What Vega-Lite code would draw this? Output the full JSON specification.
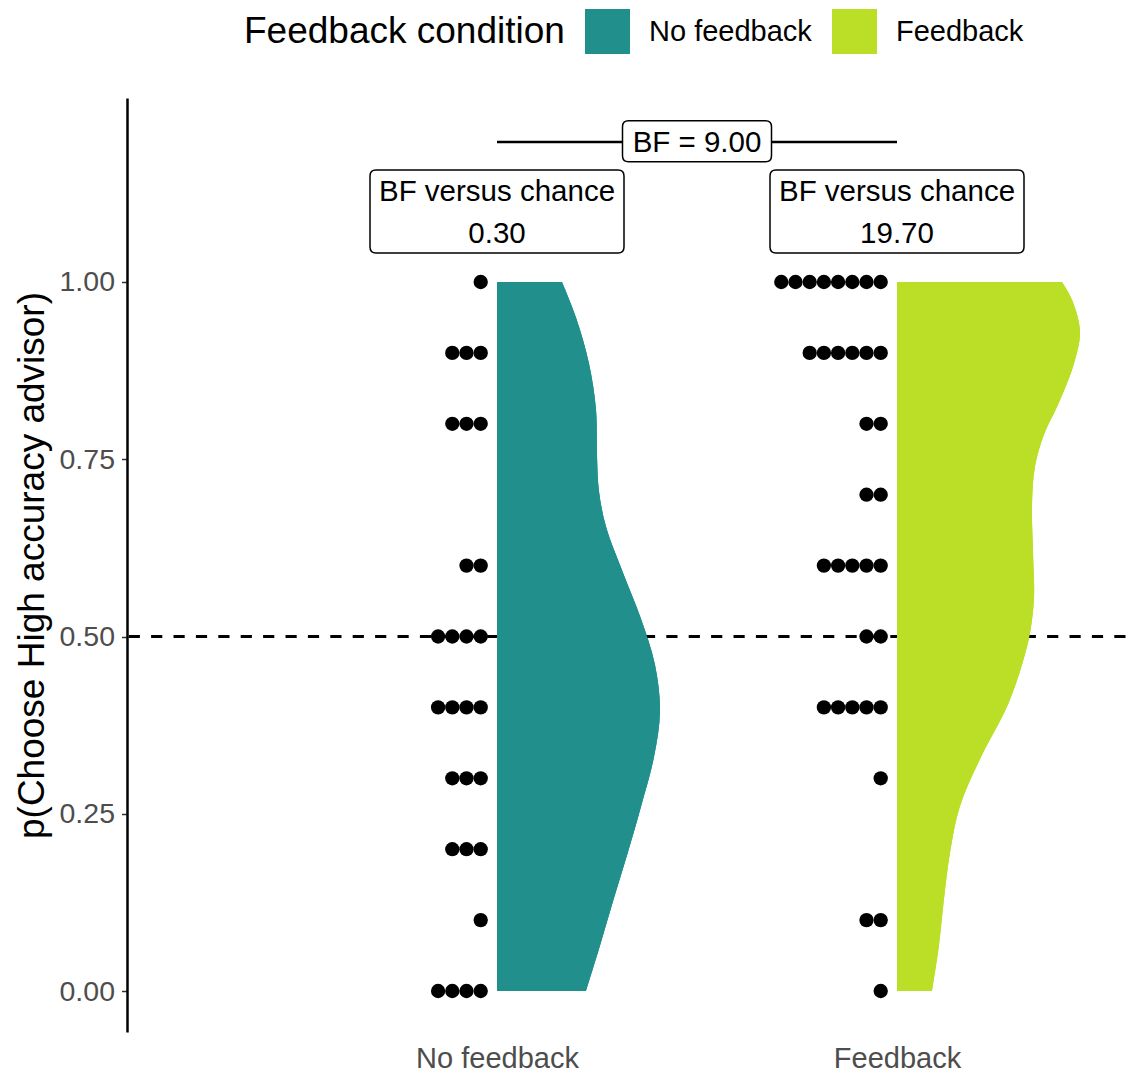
{
  "$schema": "https://vega.github.io/schema/vega-lite/v6.json",
  "width": 1008,
  "height": 934,
  "autosize": "none",
  "padding": {"left": 127, "top": 98, "right": 0, "bottom": 41},
  "background": "white",
  "config": {"view": {"stroke": null}, "font": "Liberation Sans"},
  "datasets": {
    "violin": [
      {"cond": "No feedback", "p": 0.0, "density": 0.2225},
      {"cond": "No feedback", "p": 0.065, "density": 0.258},
      {"cond": "No feedback", "p": 0.13, "density": 0.292},
      {"cond": "No feedback", "p": 0.195, "density": 0.327},
      {"cond": "No feedback", "p": 0.26, "density": 0.36},
      {"cond": "No feedback", "p": 0.33, "density": 0.3925},
      {"cond": "No feedback", "p": 0.395, "density": 0.4075},
      {"cond": "No feedback", "p": 0.46, "density": 0.395},
      {"cond": "No feedback", "p": 0.525, "density": 0.36},
      {"cond": "No feedback", "p": 0.59, "density": 0.315},
      {"cond": "No feedback", "p": 0.655, "density": 0.2725},
      {"cond": "No feedback", "p": 0.705, "density": 0.255},
      {"cond": "No feedback", "p": 0.755, "density": 0.25},
      {"cond": "No feedback", "p": 0.82, "density": 0.2475},
      {"cond": "No feedback", "p": 0.885, "density": 0.23},
      {"cond": "No feedback", "p": 0.95, "density": 0.1975},
      {"cond": "No feedback", "p": 1.0, "density": 0.1625},
      {"cond": "Feedback", "p": 0.0, "density": 0.0875},
      {"cond": "Feedback", "p": 0.065, "density": 0.105},
      {"cond": "Feedback", "p": 0.13, "density": 0.1175},
      {"cond": "Feedback", "p": 0.195, "density": 0.1325},
      {"cond": "Feedback", "p": 0.26, "density": 0.157},
      {"cond": "Feedback", "p": 0.33, "density": 0.21},
      {"cond": "Feedback", "p": 0.395, "density": 0.27},
      {"cond": "Feedback", "p": 0.43, "density": 0.295},
      {"cond": "Feedback", "p": 0.465, "density": 0.315},
      {"cond": "Feedback", "p": 0.505, "density": 0.3325},
      {"cond": "Feedback", "p": 0.555, "density": 0.3425},
      {"cond": "Feedback", "p": 0.62, "density": 0.34},
      {"cond": "Feedback", "p": 0.685, "density": 0.3375},
      {"cond": "Feedback", "p": 0.74, "density": 0.345},
      {"cond": "Feedback", "p": 0.785, "density": 0.3675},
      {"cond": "Feedback", "p": 0.83, "density": 0.405},
      {"cond": "Feedback", "p": 0.885, "density": 0.4425},
      {"cond": "Feedback", "p": 0.93, "density": 0.4575},
      {"cond": "Feedback", "p": 0.975, "density": 0.4375},
      {"cond": "Feedback", "p": 1.0, "density": 0.4125}
    ],
    "dots": [
      {"cond": "No feedback", "p": 1.0},
      {"cond": "No feedback", "p": 0.9}, {"cond": "No feedback", "p": 0.9}, {"cond": "No feedback", "p": 0.9},
      {"cond": "No feedback", "p": 0.8}, {"cond": "No feedback", "p": 0.8}, {"cond": "No feedback", "p": 0.8},
      {"cond": "No feedback", "p": 0.6}, {"cond": "No feedback", "p": 0.6},
      {"cond": "No feedback", "p": 0.5}, {"cond": "No feedback", "p": 0.5}, {"cond": "No feedback", "p": 0.5}, {"cond": "No feedback", "p": 0.5},
      {"cond": "No feedback", "p": 0.4}, {"cond": "No feedback", "p": 0.4}, {"cond": "No feedback", "p": 0.4}, {"cond": "No feedback", "p": 0.4},
      {"cond": "No feedback", "p": 0.3}, {"cond": "No feedback", "p": 0.3}, {"cond": "No feedback", "p": 0.3},
      {"cond": "No feedback", "p": 0.2}, {"cond": "No feedback", "p": 0.2}, {"cond": "No feedback", "p": 0.2},
      {"cond": "No feedback", "p": 0.1},
      {"cond": "No feedback", "p": 0.0}, {"cond": "No feedback", "p": 0.0}, {"cond": "No feedback", "p": 0.0}, {"cond": "No feedback", "p": 0.0},
      {"cond": "Feedback", "p": 1.0}, {"cond": "Feedback", "p": 1.0}, {"cond": "Feedback", "p": 1.0}, {"cond": "Feedback", "p": 1.0},
      {"cond": "Feedback", "p": 1.0}, {"cond": "Feedback", "p": 1.0}, {"cond": "Feedback", "p": 1.0}, {"cond": "Feedback", "p": 1.0},
      {"cond": "Feedback", "p": 0.9}, {"cond": "Feedback", "p": 0.9}, {"cond": "Feedback", "p": 0.9},
      {"cond": "Feedback", "p": 0.9}, {"cond": "Feedback", "p": 0.9}, {"cond": "Feedback", "p": 0.9},
      {"cond": "Feedback", "p": 0.8}, {"cond": "Feedback", "p": 0.8},
      {"cond": "Feedback", "p": 0.7}, {"cond": "Feedback", "p": 0.7},
      {"cond": "Feedback", "p": 0.6}, {"cond": "Feedback", "p": 0.6}, {"cond": "Feedback", "p": 0.6}, {"cond": "Feedback", "p": 0.6}, {"cond": "Feedback", "p": 0.6},
      {"cond": "Feedback", "p": 0.5}, {"cond": "Feedback", "p": 0.5},
      {"cond": "Feedback", "p": 0.4}, {"cond": "Feedback", "p": 0.4}, {"cond": "Feedback", "p": 0.4}, {"cond": "Feedback", "p": 0.4}, {"cond": "Feedback", "p": 0.4},
      {"cond": "Feedback", "p": 0.3},
      {"cond": "Feedback", "p": 0.1}, {"cond": "Feedback", "p": 0.1},
      {"cond": "Feedback", "p": 0.0}
    ],
    "chance": [
      {"cond": "No feedback", "label": "BF versus chance\n0.30"},
      {"cond": "Feedback", "label": "BF versus chance\n19.70"}
    ],
    "comparison": [
      {"from": "No feedback", "to": "Feedback", "label": "BF = 9.00"}
    ]
  },
  "layer": [
    {
      "data": {"name": "violin"},
      "transform": [
        {"calculate": "datum.cond == 'No feedback' ? 1 : 2", "as": "center"},
        {"calculate": "datum.center + datum.density", "as": "edge"}
      ],
      "mark": {"type": "area", "orient": "horizontal", "interpolate": "catmull-rom", "opacity": 1},
      "encoding": {
        "y": {
          "field": "p", "type": "quantitative",
          "scale": {"domain": [-0.0578, 1.2595], "nice": false, "zero": false},
          "axis": {
            "values": [0, 0.25, 0.5, 0.75, 1],
            "format": ".2f",
            "grid": false,
            "domainColor": "black", "domainWidth": 2.5,
            "tickColor": "#333333", "tickWidth": 1.5, "tickSize": 5.5,
            "labelFontSize": 28.5, "labelColor": "#4d4d4d", "labelPadding": 7,
            "title": "p(Choose High accuracy advisor)",
            "titleFontSize": 37, "titleFontWeight": "normal", "titleColor": "black", "titlePadding": 8
          }
        },
        "x": {
          "field": "edge", "type": "quantitative", "stack": null,
          "scale": {"domain": [0.075, 2.595], "nice": false, "zero": false},
          "axis": {
            "values": [1, 2],
            "labelExpr": "datum.value == 1 ? 'No feedback' : 'Feedback'",
            "grid": false, "domain": false, "ticks": false,
            "labelFontSize": 29, "labelColor": "#4d4d4d", "labelPadding": 12,
            "title": null
          }
        },
        "x2": {"field": "center"},
        "color": {
          "field": "cond", "type": "nominal",
          "scale": {"domain": ["No feedback", "Feedback"], "range": ["#21908C", "#BBDF27"]},
          "legend": {
            "title": "Feedback condition",
            "orient": "none", "legendX": 117, "legendY": -89,
            "direction": "horizontal",
            "titleOrient": "left",
            "titleFontSize": 37, "titleFontWeight": "normal", "titleColor": "black",
            "titlePadding": 20, "titleLimit": 600,
            "labelFontSize": 29, "labelColor": "black", "labelOffset": 19, "labelLimit": 400,
            "columnPadding": 20,
            "symbolType": "square", "symbolSize": 2025, "symbolStrokeWidth": 0, "symbolOpacity": 1
          }
        }
      }
    },
    {
      "data": {"values": [{}]},
      "mark": {"type": "rule", "color": "black", "strokeWidth": 2.8, "strokeDash": [11.2, 11.2], "strokeDashOffset": 12.9},
      "encoding": {
        "y": {"datum": 0.5, "type": "quantitative"}
      }
    },
    {
      "data": {"name": "violin"},
      "transform": [
        {"calculate": "datum.cond == 'No feedback' ? 1 : 2", "as": "center"},
        {"calculate": "datum.center + datum.density", "as": "edge"}
      ],
      "mark": {"type": "area", "orient": "horizontal", "interpolate": "catmull-rom", "opacity": 1},
      "encoding": {
        "y": {"field": "p", "type": "quantitative"},
        "x": {"field": "edge", "type": "quantitative", "stack": null},
        "x2": {"field": "center"},
        "color": {"field": "cond", "type": "nominal"}
      }
    },
    {
      "data": {"name": "dots"},
      "transform": [
        {"window": [{"op": "row_number", "as": "k"}], "groupby": ["cond", "p"]},
        {"calculate": "(datum.cond == 'No feedback' ? 1 : 2) - 0.04075 - 0.0355 * (datum.k - 1)", "as": "dotx"}
      ],
      "mark": {"type": "point", "shape": "circle", "filled": true, "color": "black", "opacity": 1, "size": 205, "strokeWidth": 0},
      "encoding": {
        "x": {"field": "dotx", "type": "quantitative"},
        "y": {"field": "p", "type": "quantitative"}
      }
    },
    {
      "data": {"name": "comparison"},
      "mark": {"type": "rule", "color": "black", "strokeWidth": 2.6},
      "encoding": {
        "x": {"datum": 1, "type": "quantitative"},
        "x2": {"datum": 2},
        "y": {"datum": 1.1975, "type": "quantitative"}
      }
    },
    {
      "data": {"name": "comparison"},
      "mark": {
        "type": "point", "filled": true, "fill": "white", "stroke": "black", "strokeWidth": 1.5, "opacity": 1, "fillOpacity": 1, "strokeOpacity": 1,
        "size": 22201,
        "shape": "M-0.92,-0.275 L0.92,-0.275 Q1,-0.275 1,-0.195 L1,0.195 Q1,0.275 0.92,0.275 L-0.92,0.275 Q-1,0.275 -1,0.195 L-1,-0.195 Q-1,-0.275 -0.92,-0.275 Z"
      },
      "encoding": {
        "x": {"datum": 1.5, "type": "quantitative"},
        "y": {"datum": 1.1985, "type": "quantitative"}
      }
    },
    {
      "data": {"name": "comparison"},
      "mark": {"type": "text", "fontSize": 29.5, "color": "black", "align": "center", "baseline": "middle"},
      "encoding": {
        "x": {"datum": 1.5, "type": "quantitative"},
        "y": {"datum": 1.1965, "type": "quantitative"},
        "text": {"field": "label"}
      }
    },
    {
      "data": {"name": "chance"},
      "transform": [
        {"calculate": "datum.cond == 'No feedback' ? 1 : 2", "as": "center"}
      ],
      "mark": {
        "type": "point", "filled": true, "fill": "white", "stroke": "black", "strokeWidth": 1.5, "opacity": 1, "fillOpacity": 1, "strokeOpacity": 1,
        "size": 64516,
        "shape": "M-0.953,-0.327 L0.953,-0.327 Q1,-0.327 1,-0.28 L1,0.28 Q1,0.327 0.953,0.327 L-0.953,0.327 Q-1,0.327 -1,0.28 L-1,-0.28 Q-1,-0.327 -0.953,-0.327 Z"
      },
      "encoding": {
        "x": {"field": "center", "type": "quantitative"},
        "y": {"datum": 1.0994, "type": "quantitative"}
      }
    },
    {
      "data": {"name": "chance"},
      "transform": [
        {"calculate": "datum.cond == 'No feedback' ? 1 : 2", "as": "center"}
      ],
      "mark": {"type": "text", "fontSize": 29.5, "color": "black", "align": "center", "baseline": "middle", "lineBreak": "\n", "lineHeight": 41.5},
      "encoding": {
        "x": {"field": "center", "type": "quantitative"},
        "y": {"datum": 1.1268, "type": "quantitative"},
        "text": {"field": "label"}
      }
    }
  ]
}
